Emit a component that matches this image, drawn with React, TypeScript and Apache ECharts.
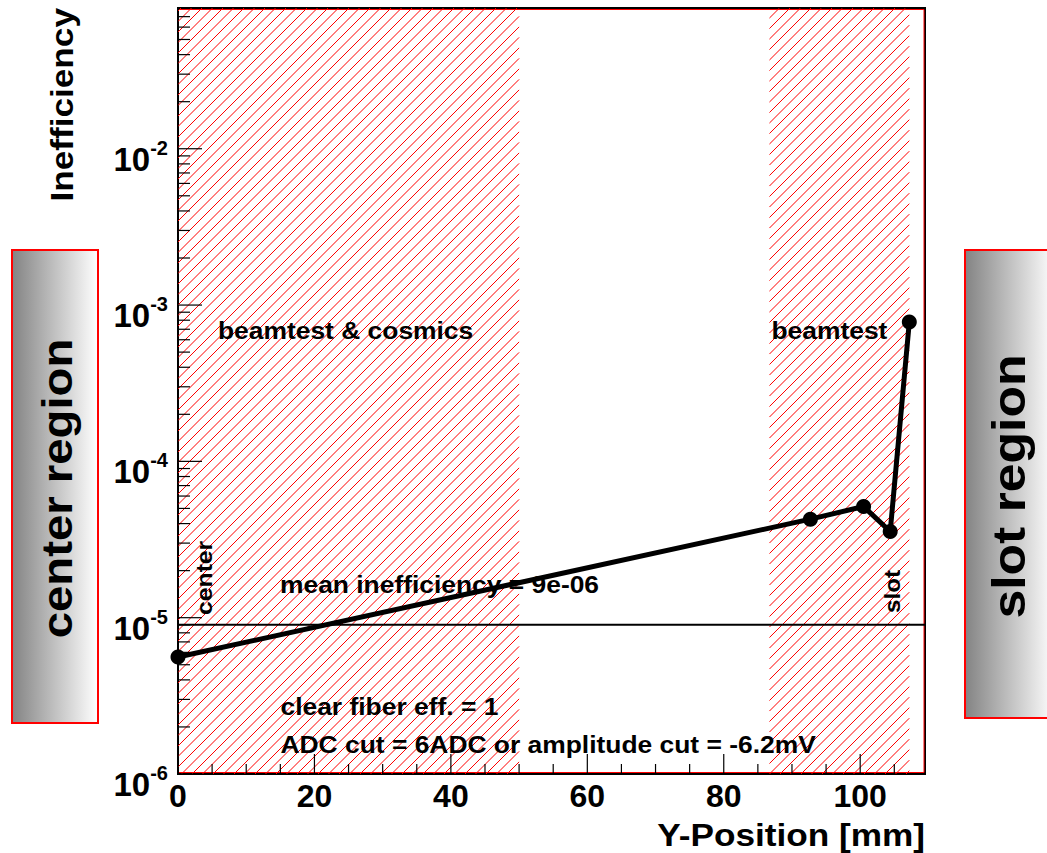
import React, { useEffect, useRef } from "react";
import * as echarts from "echarts";

// ---- data ----
const positions = [0, 92.7, 100.5, 104.4, 107.2]; // Y-Position [mm]
const inefficiency = [5.6e-6, 4.27e-5, 5.14e-5, 3.56e-5, 7.78e-4];
const meanIneff = 9e-6;
const hatchRegions = [
  [0, 50],
  [86.7, 107.2],
];
const xMin = 0;
const xMax = 109.5;
const yMin = 1e-6;
const yMax = 0.0795;
const xMajorTicks = [0, 20, 40, 60, 80, 100];
const xMinorTicks = [5, 10, 15, 25, 30, 35, 45, 50, 55, 65, 70, 75, 85, 90, 95, 105];
const yDecades = [1e-6, 1e-5, 1e-4, 1e-3, 1e-2];
const yMinorMult = [2, 3, 4, 5, 6, 7, 8, 9];

const FONT = "'Liberation Sans', Arial, Helvetica, sans-serif";

function txt(text: string, x: number, y: number, fs: number, opts: any = {}) {
  return {
    type: "text",
    x,
    y,
    rotation: opts.rotation || 0,
    scaleX: opts.scaleX ?? 1.1,
    z: 50,
    style: {
      text,
      fontFamily: FONT,
      fontWeight: "bold",
      fontSize: fs,
      fill: "#000",
      align: opts.align || "left",
      verticalAlign: "middle",
    },
  };
}

function grayGradient() {
  return {
    type: "linear",
    x: 0,
    y: 0,
    x2: 1,
    y2: 0,
    colorStops: [
      { offset: 0, color: "#838383" },
      { offset: 1, color: "#ffffff" },
    ],
  };
}

export default function App() {
  const ref = useRef<HTMLDivElement>(null);
  useEffect(() => {
    if (!ref.current) return;
    const chart = echarts.init(ref.current, undefined, { renderer: "svg" });

    const tickData: number[][] = [];
    xMajorTicks.forEach((v) => tickData.push([v, yMin, 20, 0]));
    xMinorTicks.forEach((v) => tickData.push([v, yMin, 10, 0]));
    yDecades.forEach((d) => {
      tickData.push([xMin, d, 24, 1]);
      yMinorMult.forEach((m) => {
        const v = m * d;
        if (v < yMax) tickData.push([xMin, v, 12, 1]);
      });
    });

    const lineData = positions.map((p, i) => [p, inefficiency[i]]);
    const meanData = [
      [xMin, meanIneff],
      [xMax, meanIneff],
    ];

    const option: any = {
      animation: false,
      backgroundColor: "#fff",
      grid: {
        left: 178,
        right: 122,
        top: 8,
        bottom: 79,
        show: true,
        borderColor: "#000",
        borderWidth: 2,
        backgroundColor: "transparent",
      },
      xAxis: {
        type: "value",
        min: xMin,
        max: xMax,
        interval: 20,
        axisLine: { show: true, lineStyle: { color: "#000", width: 2 } },
        axisTick: { show: false },
        splitLine: { show: false },
        axisLabel: {
          showMaxLabel: false,
          margin: 6,
          color: "#000",
          fontFamily: FONT,
          fontWeight: "bold",
          fontSize: 32,
        },
      },
      yAxis: {
        type: "log",
        logBase: 10,
        min: yMin,
        max: yMax,
        splitNumber: 5,
        axisLine: { show: true, lineStyle: { color: "#000", width: 2 } },
        axisTick: { show: false },
        splitLine: { show: false },
        axisLabel: {
          margin: 10,
          color: "#000",
          padding: [16, 0, 0, 0],
          formatter: (v: number) => {
            const e = Math.log10(v);
            const r = Math.round(e);
            if (Math.abs(e - r) > 1e-6) return "";
            return "{b|10}{s|" + r + "}";
          },
          rich: {
            b: {
              fontFamily: FONT,
              fontWeight: "bold",
              fontSize: 33,
              lineHeight: 38,
              verticalAlign: "bottom",
              color: "#000",
            },
            s: {
              fontFamily: FONT,
              fontWeight: "bold",
              fontSize: 20,
              lineHeight: 14,
              verticalAlign: "top",
              color: "#000",
            },
          },
        },
      },
      series: [
        {
          type: "custom",
          name: "hatch",
          z: 1,
          silent: true,
          clip: true,
          data: hatchRegions.map((r) => [r[0], r[1], yMin, yMax]),
          encode: { x: [0, 1], y: [2, 3] },
          renderItem: (params: any, api: any) => {
            const pTL = api.coord([api.value(0), api.value(3)]);
            const pBR = api.coord([api.value(1), api.value(2)]);
            const L = pTL[0],
              T = pTL[1],
              R = pBR[0],
              B = pBR[1];
            const s = 10.5;
            const children: any[] = [];
            const start = Math.ceil((L + T) / s) * s;
            for (let c = start; c <= R + B; c += s) {
              const xs = Math.max(L, c - B);
              const xe = Math.min(R, c - T);
              if (xe > xs) {
                children.push({
                  type: "line",
                  shape: { x1: xs, y1: c - xs, x2: xe, y2: c - xe },
                  style: { stroke: "#ff0000", lineWidth: 1 },
                });
              }
            }
            return { type: "group", children };
          },
        },
        {
          type: "custom",
          name: "ticks",
          z: 3,
          silent: true,
          data: tickData,
          encode: { x: 0, y: 1 },
          renderItem: (params: any, api: any) => {
            const p = api.coord([api.value(0), api.value(1)]);
            const len = api.value(2);
            const dir = api.value(3);
            const shape =
              dir === 0
                ? { x1: p[0], y1: p[1], x2: p[0], y2: p[1] - len }
                : { x1: p[0], y1: p[1], x2: p[0] + len, y2: p[1] };
            return {
              type: "line",
              shape,
              style: { stroke: "#000", lineWidth: 1.2 },
            };
          },
        },
        {
          type: "line",
          name: "mean inefficiency",
          z: 4,
          silent: true,
          clip: false,
          data: meanData,
          symbol: "none",
          lineStyle: { color: "#000", width: 2 },
        },
        {
          type: "line",
          name: "Inefficiency",
          z: 5,
          clip: false,
          data: lineData,
          symbol: "circle",
          symbolSize: 15,
          itemStyle: { color: "#000" },
          lineStyle: { color: "#000", width: 5 },
        },
      ],
      graphic: [
        {
          type: "polyline",
          z: 2,
          shape: {
            points: [
              [179, 9.5],
              [924, 9.5],
              [924, 772.5],
              [179, 772.5],
            ],
          },
          style: { stroke: "#ff0000", lineWidth: 1, fill: null },
        },
        {
          type: "rect",
          z: 1,
          shape: { x: 12, y: 250, width: 86, height: 473 },
          style: { fill: grayGradient(), stroke: "#ff0000", lineWidth: 2 },
        },
        {
          type: "rect",
          z: 1,
          shape: { x: 965, y: 250, width: 90, height: 468 },
          style: { fill: grayGradient(), stroke: "#ff0000", lineWidth: 2 },
        },
        txt("center region", 57, 488.5, 43, { rotation: Math.PI / 2, align: "center" }),
        txt("slot region", 1008, 486.5, 47, { rotation: Math.PI / 2, align: "center" }),
        txt("Inefficiency", 62, 8, 32, { rotation: Math.PI / 2, align: "right" }),
        txt("Y-Position [mm]", 925, 835, 32, { align: "right" }),
        txt("beamtest & cosmics", 218, 330.6, 24),
        txt("beamtest", 771.5, 330.6, 24),
        txt("mean inefficiency = 9e-06", 280, 584.6, 24),
        txt("clear fiber eff. = 1", 280.5, 706, 24),
        txt("ADC cut = 6ADC or amplitude cut = -6.2mV", 280.5, 744.3, 24),
        txt("center", 204, 615, 22.5, { rotation: Math.PI / 2, align: "left" }),
        txt("slot", 892, 613, 22, { rotation: Math.PI / 2, align: "left" }),
      ],
    };
    chart.setOption(option);
    return () => chart.dispose();
  }, []);
  return (
    <div
      ref={ref}
      style={{ position: "absolute", left: 0, top: 0, width: 1047, height: 853 }}
    />
  );
}
